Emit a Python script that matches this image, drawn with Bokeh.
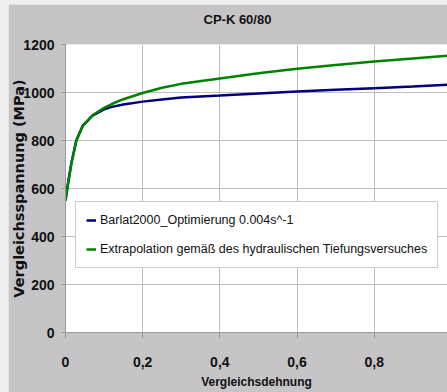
from bokeh.plotting import figure
from bokeh.models import FixedTicker, Legend, LegendItem
from bokeh.layouts import column
from bokeh.embed import file_html
from bokeh.resources import INLINE

# Flow curves: equivalent strain vs. equivalent stress (MPa)
strain = [0, 0.005, 0.015, 0.028, 0.045, 0.07, 0.1, 0.12, 0.15, 0.2, 0.25, 0.3,
          0.4, 0.5, 0.6, 0.7, 0.8, 0.9, 1.0]
barlat_stress = [550, 605, 703, 800, 862, 904, 930, 940, 950, 962, 971, 979,
                 987, 996, 1004, 1011, 1018, 1025, 1033]
extrap_stress = [550, 605, 703, 800, 862, 905, 936, 952, 972, 998, 1020, 1036,
                 1058, 1080, 1099, 1115, 1129, 1142, 1155]

series_names = ["Barlat2000_Optimierung 0.004s^-1",
                "Extrapolation gemäß des hydraulischen Tiefungsversuches"]
chart_title = "CP-K 60/80"

x_ticks = [0, 0.2, 0.4, 0.6, 0.8]
x_tick_labels = ["0", "0,2", "0,4", "0,6", "0,8"]
y_ticks = [0, 200, 400, 600, 800, 1000, 1200]

SANS = "'Liberation Sans', Arial, sans-serif"
GREY_BG = "#c6c4c7"

p = figure(width=439, height=388, output_backend="svg", toolbar_location=None,
           x_range=(0, 0.99), y_range=(0, 1200),
           min_border_left=56, min_border_right=0, min_border_top=40,
           min_border_bottom=60)
p.margin = (4, 0, 0, 8)
p.border_fill_color = GREY_BG
p.background_fill_color = "white"
p.outline_line_color = None

# the trailing empty line lifts the title away from the plot frame
p.title.text = chart_title + "\n"
p.title.align = "left"
p.title.offset = 138
p.title.vertical_align = "bottom"
p.title.text_font = SANS
p.title.text_font_size = "13px"
p.title.text_font_style = "bold"
p.title.text_color = "#111111"
p.title.standoff = 6

r1 = p.line(strain, barlat_stress, line_color="#00007f", line_width=2.5)
r2 = p.line(strain, extrap_stress, line_color="#008200", line_width=2.5)

for ax in (p.xaxis[0], p.yaxis[0]):
    ax.axis_line_color = "#9a9a9a"
    ax.major_tick_line_color = "#9a9a9a"
    ax.minor_tick_line_color = None
    ax.major_tick_in = 0
    ax.major_label_text_font = SANS
    ax.major_label_text_font_size = "14px"
    ax.major_label_text_font_style = "bold"
    ax.major_label_text_color = "#111111"
    ax.axis_label_text_color = "#111111"

p.xaxis.ticker = FixedTicker(ticks=x_ticks)
p.xaxis.major_label_overrides = dict(zip(x_ticks, x_tick_labels))
p.xaxis.major_tick_out = 6
p.xaxis.major_label_standoff = 18
p.xaxis.axis_label = "Vergleichsdehnung"
p.xaxis.axis_label_text_font = SANS
p.xaxis.axis_label_text_font_size = "12px"
p.xaxis.axis_label_text_font_style = "bold"
p.xaxis.axis_label_standoff = 5

p.yaxis.ticker = FixedTicker(ticks=y_ticks)
p.yaxis.major_tick_out = 4
p.yaxis.major_label_standoff = 7
p.yaxis.axis_label = "Vergleichsspannung (MPa)"
p.yaxis.axis_label_text_font = "DejaVu Sans"
p.yaxis.axis_label_text_font_size = "14.5px"
p.yaxis.axis_label_text_font_style = "bold"
p.yaxis.axis_label_standoff = -7

p.xgrid.ticker = FixedTicker(ticks=x_ticks)
p.ygrid.ticker = FixedTicker(ticks=y_ticks)
p.grid.grid_line_color = "#bdbdbd"
p.grid.grid_line_width = 1

legend = Legend(items=[LegendItem(label=series_names[0], renderers=[r1]),
                       LegendItem(label=series_names[1], renderers=[r2])],
                location=(10, 64))
legend.label_text_font = SANS
legend.label_text_font_size = "12.5px"
legend.label_text_color = "#111111"
legend.glyph_width = 10
legend.glyph_height = 16
legend.label_height = 16
legend.label_standoff = 4
legend.spacing = 13
legend.padding = 10
legend.margin = 0
legend.border_line_color = "#999999"
legend.background_fill_alpha = 1
p.add_layout(legend)

page = column(p, styles={"background-color": "#efefef"})
open("out.html", "w").write(file_html(page, INLINE))
